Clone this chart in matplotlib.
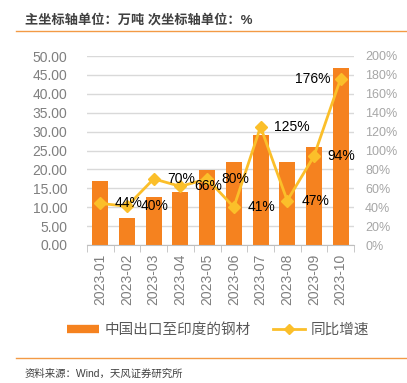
import numpy as np
import matplotlib.pyplot as plt
from matplotlib.lines import Line2D

plt.rcParams['font.family'] = ['Liberation Sans', 'Noto Sans CJK SC']

# data
months = ['2023-01', '2023-02', '2023-03', '2023-04', '2023-05',
          '2023-06', '2023-07', '2023-08', '2023-09', '2023-10']
steel = [16.9, 7.2, 12.8, 14.0, 19.8, 21.9, 29.0, 21.9, 25.8, 46.9]
yoy = [44, 41, 70, 62, 70, 40, 125, 47, 94, 176]
yoy_labels = ['44%', '40%', '70%', '66%', '80%', '41%', '125%', '47%', '94%', '176%']

orange = '#F5821F'
yellow = '#FBBF2A'
gray = '#7F7F7F'

fig = plt.figure(figsize=(4.07, 3.83), dpi=100)
ax = fig.add_axes([87 / 407, 1 - 245 / 383, 267 / 407, 189 / 383])
ax2 = ax.twinx()

x = np.arange(len(months))
ax.bar(x, steel, width=0.6, color=orange, zorder=2)
ax.set_ylim(0, 50)
ax.set_yticks(np.arange(0, 51, 5))
ax.set_yticklabels([f'{v:.2f}' for v in np.arange(0, 51, 5)], fontsize=10, color=gray)
ax.set_xlim(-0.5, len(months) - 0.5)
ax.set_xticks(x)
ax.set_xticklabels(months, rotation=90, fontsize=10, color=gray)
ax.set_xticks(np.arange(-0.5, len(months), 1), minor=True)
ax.tick_params(axis='x', which='major', length=0, pad=6)
ax.tick_params(axis='x', which='minor', length=5, color='#BFBFBF')
ax.tick_params(axis='y', length=0, pad=14)
ax.grid(axis='y', color='#D9D9D9', linewidth=1, zorder=0)
ax.set_axisbelow(True)
for s in ['top', 'right', 'left']:
    ax.spines[s].set_visible(False)
ax.spines['bottom'].set_color('#BFBFBF')

ax2.plot(x, yoy, color=yellow, linewidth=2, marker='D', markersize=6, zorder=3)
ax2.set_ylim(0, 200)
ax2.set_yticks(np.arange(0, 201, 20))
ax2.set_yticklabels([f'{v}%' for v in range(0, 201, 20)], fontsize=9, color='#A6A6A6')
ax2.tick_params(axis='y', length=0, pad=8)
for s in ax2.spines.values():
    s.set_visible(False)

for i, (v, t) in enumerate(zip(yoy, yoy_labels)):
    if i == len(yoy) - 1:
        ax2.annotate(t, (i, v), xytext=(-7, 0), textcoords='offset points',
                     ha='right', va='center', fontsize=10, color='black')
    else:
        ax2.annotate(t, (i, v), xytext=(10, 0), textcoords='offset points',
                     ha='left', va='center', fontsize=10, color='black')

# header, legend and footer
fig.text(25 / 407, 1 - 20 / 383, '主坐标轴单位：万吨 次坐标轴单位：%', fontsize=9.5,
         fontweight='bold', color='#404040', va='center')
fig.add_artist(Line2D([16 / 407, 1], [1 - 31 / 383] * 2, color='#F39A45', linewidth=1))
fig.add_artist(Line2D([16 / 407, 1], [1 - 358 / 383] * 2, color='#F39A45', linewidth=1))
fig.text(25 / 407, 1 - 374 / 383, '资料来源：Wind，天风证券研究所', fontsize=7.5,
         color='#404040', va='center')

handles = [Line2D([], [], color=orange, linewidth=6, solid_capstyle='butt'),
           Line2D([], [], color=yellow, linewidth=2, marker='D', markersize=5)]
fig.legend(handles, ['中国出口至印度的钢材', '同比增速'], loc='center',
           bbox_to_anchor=(0.535, 1 - 330 / 383), ncol=2, frameon=False,
           fontsize=10.5, labelcolor='#595959', handlelength=2.2,
           columnspacing=1.5, handletextpad=0.4)

fig.savefig('out.png', dpi=100)
